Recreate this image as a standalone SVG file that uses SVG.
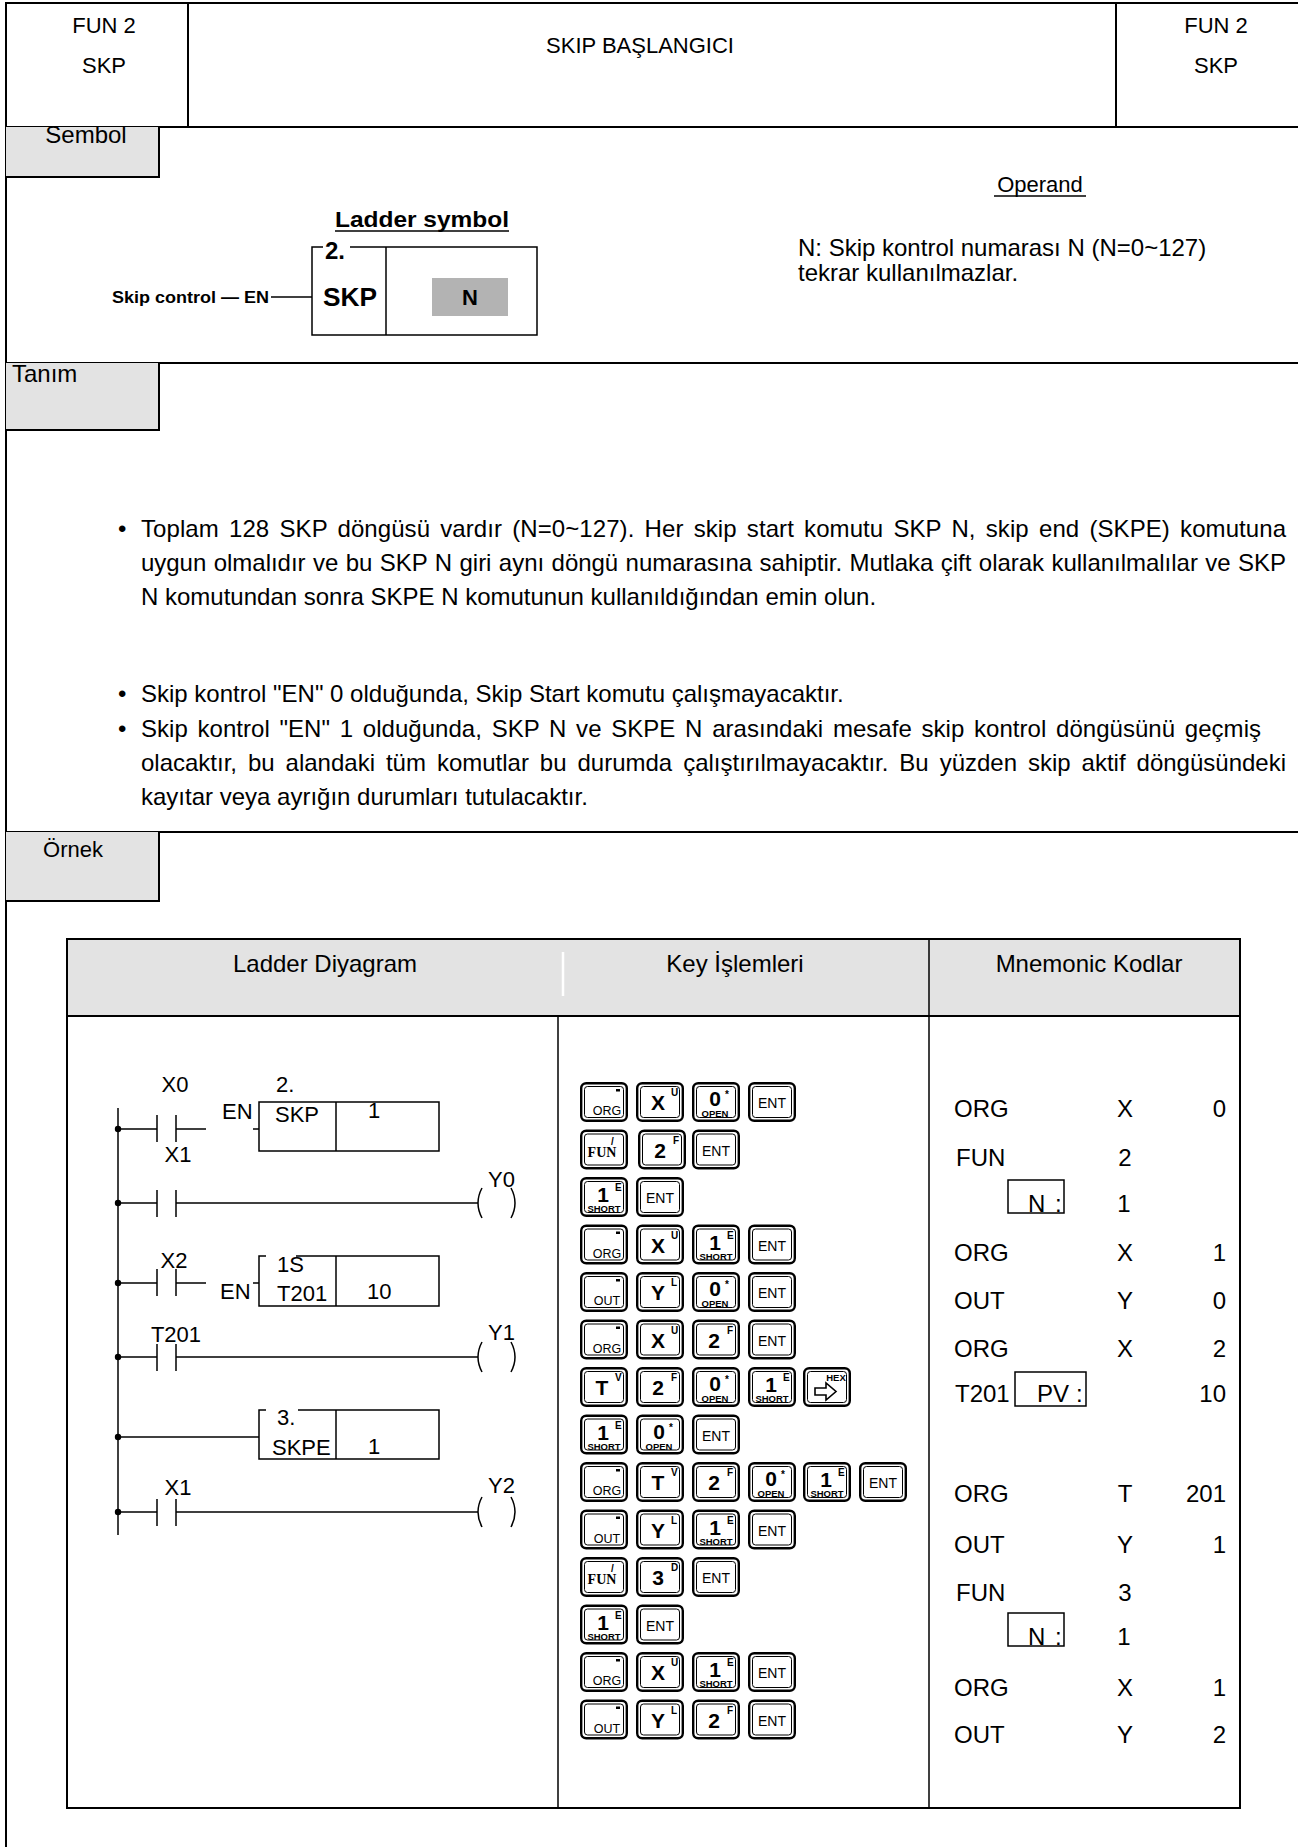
<svg xmlns="http://www.w3.org/2000/svg" xmlns:xlink="http://www.w3.org/1999/xlink" width="1298" height="1847" viewBox="0 0 1298 1847">
<style>
text{font-family:"Liberation Sans",Arial,sans-serif;fill:#000}
.f22{font-size:22px}
.f24{font-size:24px}
.b{font-weight:bold}
.mid{text-anchor:middle}
.end{text-anchor:end}
.ln{stroke:#000;stroke-width:1.5;fill:none}
.fr{stroke:#000;stroke-width:2;fill:none}
.gray{fill:#e3e3e3}
.kt{font-size:12.5px;text-anchor:middle}
.kb{font-size:21px;font-weight:bold;text-anchor:middle}
.ks{font-size:10px;font-weight:bold}
.kss{font-size:9.5px;font-weight:bold;text-anchor:middle}
.ke{font-size:14px;text-anchor:middle}
.kfun{font-family:"Liberation Serif","Times New Roman",serif;font-size:14px;font-weight:bold;text-anchor:middle}
</style>
<defs>
<g id="kf">
<rect x="1.2" y="1.2" width="45.6" height="37.6" rx="5" fill="#fff" stroke="#000" stroke-width="2.4"/>
<rect x="4.5" y="4.5" width="39" height="31" rx="3" fill="none" stroke="#000" stroke-width="1"/>
</g>
<g id="kORG"><use href="#kf"/><text x="27" y="33" class="kt">ORG</text><rect x="36" y="7" width="4" height="2.5"/></g>
<g id="kOUT"><use href="#kf"/><text x="27" y="33" class="kt">OUT</text><rect x="36" y="7" width="4" height="2.5"/></g>
<g id="kX"><use href="#kf"/><text x="22" y="28" class="kb">X</text><text x="35" y="14" class="ks">U</text></g>
<g id="kY"><use href="#kf"/><text x="22" y="28" class="kb">Y</text><text x="35" y="14" class="ks">L</text></g>
<g id="kT"><use href="#kf"/><text x="22" y="28" class="kb">T</text><text x="35" y="14" class="ks">V</text></g>
<g id="k2"><use href="#kf"/><text x="22" y="28" class="kb">2</text><text x="35" y="14" class="ks">F</text></g>
<g id="k3"><use href="#kf"/><text x="22" y="28" class="kb">3</text><text x="35" y="14" class="ks">D</text></g>
<g id="k0"><use href="#kf"/><text x="23" y="24" class="kb">0</text><text x="23" y="35" class="kss">OPEN</text><text x="33" y="16" class="ks">*</text></g>
<g id="k1"><use href="#kf"/><text x="23" y="25" class="kb">1</text><text x="24" y="35" class="kss">SHORT</text><text x="35" y="14" class="ks">E</text></g>
<g id="kENT"><use href="#kf"/><text x="24" y="26" class="ke">ENT</text></g>
<g id="kFUN"><use href="#kf"/><text x="22" y="27" class="kfun">FUN</text><text x="31" y="15" class="ks">/</text></g>
<g id="kHEX"><use href="#kf"/><text x="33" y="14" class="kss" font-size="8.5">HEX</text><path d="M12,21 H23 V16 L33,24.5 L23,33 V28 H12 Z" fill="none" stroke="#000" stroke-width="1.6"/></g>
</defs>

<g id="frame">
<line x1="5" y1="3" x2="1298" y2="3" class="fr"/>
<line x1="6" y1="2" x2="6" y2="1847" class="fr"/>
<line x1="188" y1="3" x2="188" y2="127" class="fr"/>
<line x1="1116" y1="3" x2="1116" y2="127" class="fr"/>
<line x1="6" y1="127" x2="1298" y2="127" class="fr"/>
<line x1="6" y1="363" x2="1298" y2="363" class="fr"/>
<line x1="6" y1="832" x2="1298" y2="832" class="fr"/>
</g>

<g id="header">
<text x="104" y="33" class="f22 mid">FUN 2</text>
<text x="104" y="73" class="f22 mid">SKP</text>
<text x="640" y="53" class="f22 mid">SKIP BAŞLANGICI</text>
<text x="1216" y="33" class="f22 mid">FUN 2</text>
<text x="1216" y="73" class="f22 mid">SKP</text>
</g>

<g id="sembol-label">
<rect x="6" y="127" width="153" height="50" class="gray"/>
<path d="M159,127 V177 H6" class="fr"/>
<text x="86" y="143" class="f24 mid">Sembol</text>
</g>

<g id="ladder-symbol">
<text x="335" y="227" class="b" font-size="22" textLength="174" lengthAdjust="spacingAndGlyphs">Ladder symbol</text>
<line x1="335" y1="231" x2="509" y2="231" class="ln"/>
<text x="112" y="303" class="b" font-size="16" textLength="157" lengthAdjust="spacingAndGlyphs">Skip control — EN</text>
<line x1="271" y1="297" x2="312" y2="297" class="ln"/>
<path d="M323,247 H312 V335 H537 V247 H350" class="ln"/>
<line x1="386" y1="247" x2="386" y2="335" class="ln"/>
<text x="325" y="259" class="b" font-size="24">2.</text>
<text x="323" y="306" class="b" font-size="25" textLength="54" lengthAdjust="spacingAndGlyphs">SKP</text>
<rect x="432" y="278" width="76" height="38" fill="#b3b3b3"/>
<text x="470" y="305" class="b mid" font-size="22">N</text>
</g>

<g id="operand">
<text x="1040" y="192" class="f22 mid">Operand</text>
<line x1="994" y1="196" x2="1086" y2="196" class="ln"/>
<text x="798" y="256" class="f24">N: Skip kontrol numarası N (N=0~127)</text>
<text x="798" y="281" class="f24">tekrar kullanılmazlar.</text>
</g>

<g id="tanim-label">
<rect x="6" y="363" width="153" height="67" class="gray"/>
<path d="M159,363 V430 H6" class="fr"/>
<text x="12" y="382" class="f24">Tanım</text>
</g>

<g id="tanim-text">
<text x="118" y="537" class="f24">•</text>
<text x="141" y="537" class="f24" word-spacing="3.5" textLength="1145" lengthAdjust="spacing">Toplam 128 SKP döngüsü vardır (N=0~127). Her skip start komutu SKP N, skip end (SKPE) komutuna</text>
<text x="141" y="571" class="f24" word-spacing="0.8" textLength="1145" lengthAdjust="spacing">uygun olmalıdır ve bu SKP N giri aynı döngü numarasına sahiptir. Mutlaka çift olarak kullanılmalılar ve SKP</text>
<text x="141" y="605" class="f24">N komutundan sonra SKPE N komutunun kullanıldığından emin olun.</text>
<text x="118" y="702" class="f24">•</text>
<text x="141" y="702" class="f24">Skip kontrol "EN" 0 olduğunda, Skip Start komutu çalışmayacaktır.</text>
<text x="118" y="737" class="f24">•</text>
<text x="141" y="737" class="f24" word-spacing="3" textLength="1120" lengthAdjust="spacing">Skip kontrol "EN" 1 olduğunda, SKP N ve SKPE N arasındaki mesafe skip kontrol döngüsünü geçmiş</text>
<text x="141" y="771" class="f24" word-spacing="4.3" textLength="1145" lengthAdjust="spacing">olacaktır, bu alandaki tüm komutlar bu durumda çalıştırılmayacaktır. Bu yüzden skip aktif döngüsündeki</text>
<text x="141" y="805" class="f24">kayıtar veya ayrığın durumları tutulacaktır.</text>
</g>

<g id="ornek-label">
<rect x="6" y="832" width="153" height="69" class="gray"/>
<path d="M159,832 V901 H6" class="fr"/>
<text x="73" y="857" class="f22 mid">Örnek</text>
</g>

<g id="table">
<rect x="67" y="939" width="1173" height="77" class="gray"/>
<rect x="67" y="939" width="1173" height="869" class="fr" stroke-width="1.6"/>
<line x1="67" y1="1016" x2="1240" y2="1016" class="fr" stroke-width="1.6"/>
<line x1="558" y1="1016" x2="558" y2="1808" class="ln"/>
<line x1="563" y1="952" x2="563" y2="996" stroke="#fff" stroke-width="2.5"/>
<line x1="929" y1="939" x2="929" y2="1808" class="ln"/>
<text x="325" y="972" class="f24 mid">Ladder Diyagram</text>
<text x="735" y="972" class="f24 mid">Key İşlemleri</text>
<text x="1089" y="972" class="f24 mid">Mnemonic Kodlar</text>
</g>

<g id="ladder-connectors">
<line x1="118" y1="1108" x2="118" y2="1535" class="ln"/>
<path d="M118,1129 H157 M176,1129 H206 M253,1129 H259" class="ln"/>
<path d="M118,1203 H157 M176,1203 H478" class="ln"/>
<path d="M118,1283 H157 M176,1283 H206 M253,1283 H259" class="ln"/>
<path d="M118,1357 H157 M176,1357 H478" class="ln"/>
<path d="M118,1437 H259" class="ln"/>
<path d="M118,1512 H157 M176,1512 H478" class="ln"/>
<g fill="#000">
<circle cx="118" cy="1129" r="3.2"/><circle cx="118" cy="1203" r="3.2"/><circle cx="118" cy="1283" r="3.2"/>
<circle cx="118" cy="1357" r="3.2"/><circle cx="118" cy="1437" r="3.2"/><circle cx="118" cy="1512" r="3.2"/>
</g>
</g>

<g id="contact-X0"><path d="M157,1115 V1142 M176,1115 V1142" class="ln"/><text x="175" y="1092" class="f22 mid">X0</text></g>
<g id="contact-X1a"><path d="M157,1190 V1217 M176,1190 V1217" class="ln"/><text x="178" y="1162" class="f22 mid">X1</text></g>
<g id="contact-X2"><path d="M157,1269 V1296 M176,1269 V1296" class="ln"/><text x="174" y="1268" class="f22 mid">X2</text></g>
<g id="contact-T201"><path d="M157,1344 V1371 M176,1344 V1371" class="ln"/><text x="176" y="1342" class="f22 mid">T201</text></g>
<g id="contact-X1b"><path d="M157,1499 V1526 M176,1499 V1526" class="ln"/><text x="178" y="1495" class="f22 mid">X1</text></g>

<g id="coil-Y0"><path d="M482,1188 Q474,1203 482,1218 M511,1188 Q519,1203 511,1218" class="ln"/><text x="488" y="1187" class="f22">Y0</text></g>
<g id="coil-Y1"><path d="M482,1342 Q474,1357 482,1372 M511,1342 Q519,1357 511,1372" class="ln"/><text x="488" y="1340" class="f22">Y1</text></g>
<g id="coil-Y2"><path d="M482,1497 Q474,1512 482,1527 M511,1497 Q519,1512 511,1527" class="ln"/><text x="488" y="1493" class="f22">Y2</text></g>

<g id="box-SKP">
<rect x="259" y="1102" width="180" height="49" class="ln"/>
<line x1="336" y1="1102" x2="336" y2="1151" class="ln"/>
<text x="276" y="1092" class="f22">2.</text>
<text x="222" y="1119" class="f22">EN</text>
<text x="275" y="1122" class="f22">SKP</text>
<text x="368" y="1118" class="f22">1</text>
</g>
<g id="box-T201">
<path d="M266,1256 H259 V1306 H439 V1256 H296" class="ln"/>
<line x1="336" y1="1256" x2="336" y2="1306" class="ln"/>
<text x="277" y="1272" class="f22">1S</text>
<text x="220" y="1299" class="f22">EN</text>
<text x="277" y="1301" class="f22">T201</text>
<text x="367" y="1299" class="f22">10</text>
</g>
<g id="box-SKPE">
<path d="M266,1410 H259 V1459 H439 V1410 H298" class="ln"/>
<line x1="336" y1="1410" x2="336" y2="1459" class="ln"/>
<text x="277" y="1425" class="f22">3.</text>
<text x="272" y="1455" class="f22">SKPE</text>
<text x="368" y="1454" class="f22">1</text>
</g>

<g id="keys">
<g id="krow0"><use href="#kORG" x="580" y="1082"/><use href="#kX" x="636" y="1082"/><use href="#k0" x="692" y="1082"/><use href="#kENT" x="748" y="1082"/></g>
<g id="krow1"><use href="#kFUN" x="580" y="1129.5"/><use href="#k2" x="638" y="1129.5"/><use href="#kENT" x="692" y="1129.5"/></g>
<g id="krow2"><use href="#k1" x="580" y="1177"/><use href="#kENT" x="636" y="1177"/></g>
<g id="krow3"><use href="#kORG" x="580" y="1224.5"/><use href="#kX" x="636" y="1224.5"/><use href="#k1" x="692" y="1224.5"/><use href="#kENT" x="748" y="1224.5"/></g>
<g id="krow4"><use href="#kOUT" x="580" y="1272"/><use href="#kY" x="636" y="1272"/><use href="#k0" x="692" y="1272"/><use href="#kENT" x="748" y="1272"/></g>
<g id="krow5"><use href="#kORG" x="580" y="1319.5"/><use href="#kX" x="636" y="1319.5"/><use href="#k2" x="692" y="1319.5"/><use href="#kENT" x="748" y="1319.5"/></g>
<g id="krow6"><use href="#kT" x="580" y="1367"/><use href="#k2" x="636" y="1367"/><use href="#k0" x="692" y="1367"/><use href="#k1" x="748" y="1367"/><use href="#kHEX" x="803" y="1367"/></g>
<g id="krow7"><use href="#k1" x="580" y="1414.5"/><use href="#k0" x="636" y="1414.5"/><use href="#kENT" x="692" y="1414.5"/></g>
<g id="krow8"><use href="#kORG" x="580" y="1462"/><use href="#kT" x="636" y="1462"/><use href="#k2" x="692" y="1462"/><use href="#k0" x="748" y="1462"/><use href="#k1" x="803" y="1462"/><use href="#kENT" x="859" y="1462"/></g>
<g id="krow9"><use href="#kOUT" x="580" y="1509.5"/><use href="#kY" x="636" y="1509.5"/><use href="#k1" x="692" y="1509.5"/><use href="#kENT" x="748" y="1509.5"/></g>
<g id="krow10"><use href="#kFUN" x="580" y="1557"/><use href="#k3" x="636" y="1557"/><use href="#kENT" x="692" y="1557"/></g>
<g id="krow11"><use href="#k1" x="580" y="1604.5"/><use href="#kENT" x="636" y="1604.5"/></g>
<g id="krow12"><use href="#kORG" x="580" y="1652"/><use href="#kX" x="636" y="1652"/><use href="#k1" x="692" y="1652"/><use href="#kENT" x="748" y="1652"/></g>
<g id="krow13"><use href="#kOUT" x="580" y="1699.5"/><use href="#kY" x="636" y="1699.5"/><use href="#k2" x="692" y="1699.5"/><use href="#kENT" x="748" y="1699.5"/></g>
</g>

<g id="mnemonic">
<text x="954" y="1117" class="f24">ORG</text><text x="1125" y="1117" class="f24 mid">X</text><text x="1226" y="1117" class="f24 end">0</text>
<text x="956" y="1166" class="f24">FUN</text><text x="1125" y="1166" class="f24 mid">2</text>
<rect x="1008" y="1180" width="56" height="33" class="ln" stroke-width="1.3"/><text x="1028" y="1212" class="f24">N</text><text x="1055" y="1212" class="f24">:</text><text x="1124" y="1212" class="f24 mid">1</text>
<text x="954" y="1261" class="f24">ORG</text><text x="1125" y="1261" class="f24 mid">X</text><text x="1226" y="1261" class="f24 end">1</text>
<text x="954" y="1309" class="f24">OUT</text><text x="1125" y="1309" class="f24 mid">Y</text><text x="1226" y="1309" class="f24 end">0</text>
<text x="954" y="1357" class="f24">ORG</text><text x="1125" y="1357" class="f24 mid">X</text><text x="1226" y="1357" class="f24 end">2</text>
<text x="955" y="1402" class="f24">T201</text><rect x="1015" y="1372" width="71" height="34" class="ln" stroke-width="1.3"/><text x="1037" y="1402" class="f24">PV</text><text x="1076" y="1402" class="f24">:</text><text x="1226" y="1402" class="f24 end">10</text>
<text x="954" y="1502" class="f24">ORG</text><text x="1125" y="1502" class="f24 mid">T</text><text x="1226" y="1502" class="f24 end">201</text>
<text x="954" y="1553" class="f24">OUT</text><text x="1125" y="1553" class="f24 mid">Y</text><text x="1226" y="1553" class="f24 end">1</text>
<text x="956" y="1601" class="f24">FUN</text><text x="1125" y="1601" class="f24 mid">3</text>
<rect x="1008" y="1613" width="56" height="33" class="ln" stroke-width="1.3"/><text x="1028" y="1645" class="f24">N</text><text x="1055" y="1645" class="f24">:</text><text x="1124" y="1645" class="f24 mid">1</text>
<text x="954" y="1696" class="f24">ORG</text><text x="1125" y="1696" class="f24 mid">X</text><text x="1226" y="1696" class="f24 end">1</text>
<text x="954" y="1743" class="f24">OUT</text><text x="1125" y="1743" class="f24 mid">Y</text><text x="1226" y="1743" class="f24 end">2</text>
</g>
</svg>
